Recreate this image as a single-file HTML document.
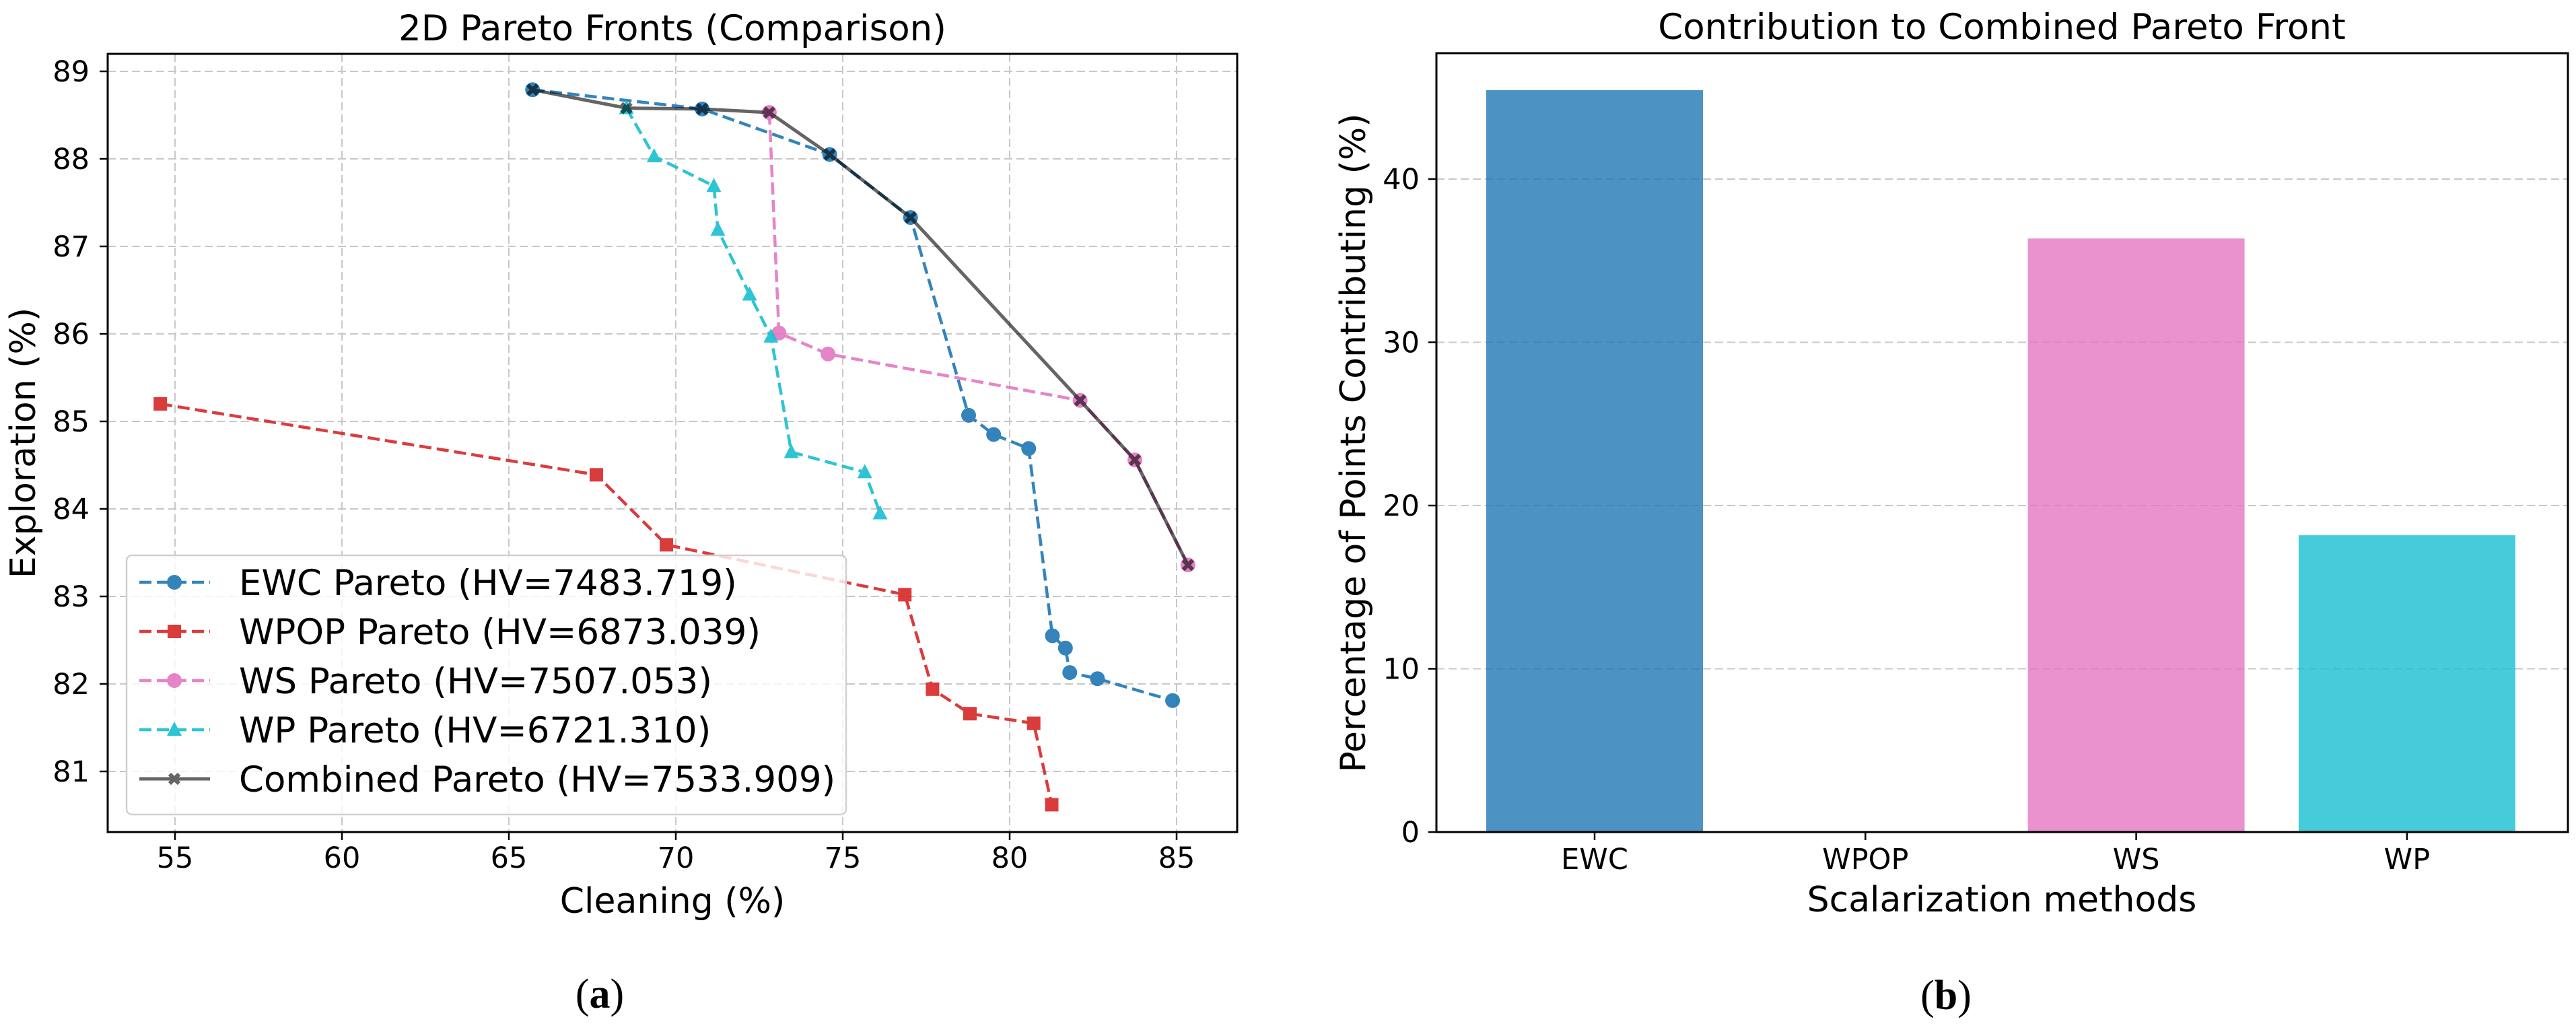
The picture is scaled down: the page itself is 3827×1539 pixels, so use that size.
<!DOCTYPE html>
<html><head><meta charset="utf-8">
<style>
html,body{margin:0;padding:0;background:#fff;}
svg{display:block;font-family:"DejaVu Sans","Liberation Sans",sans-serif;}
</style></head>
<body>
<svg id="fig" width="3827" height="1539" viewBox="0 0 3827 1539" xmlns="http://www.w3.org/2000/svg">
<rect width="3827" height="1539" fill="#fff"/>
<g id="left"></g>
<g id="right"></g>
<text x="891" y="1497" font-family="Liberation Serif, serif" font-size="62" text-anchor="middle">(<tspan font-weight="bold">a</tspan>)</text>
<text x="2891" y="1499" font-family="Liberation Serif, serif" font-size="62" text-anchor="middle">(<tspan font-weight="bold">b</tspan>)</text>
</svg>
<script>
// ---------- data: left chart ----------
const xTicks = [55, 60, 65, 70, 75, 80, 85];
const yTicks = [81, 82, 83, 84, 85, 86, 87, 88, 89];
const ewcX = [65.71, 70.79, 74.61, 77.03, 78.77, 79.52, 80.57, 81.28, 81.67, 81.80, 82.63, 84.88];
const ewcY = [88.79, 88.57, 88.05, 87.33, 85.07, 84.85, 84.69, 82.55, 82.41, 82.13, 82.06, 81.81];
const wpopX = [54.56, 67.62, 69.72, 76.86, 77.69, 78.81, 80.72, 81.26];
const wpopY = [85.20, 84.39, 83.59, 83.02, 81.94, 81.66, 81.55, 80.62];
const wsX = [72.80, 73.09, 74.56, 82.11, 83.75, 85.34];
const wsY = [88.53, 86.01, 85.77, 85.24, 84.56, 83.36];
const wpX = [68.52, 69.35, 71.14, 71.26, 72.21, 72.85, 73.46, 75.66, 76.12];
const wpY = [88.58, 88.03, 87.69, 87.19, 86.45, 85.97, 84.65, 84.42, 83.95];
const combX = [65.71, 68.52, 70.79, 72.80, 74.61, 77.03, 82.11, 83.75, 85.34];
const combY = [88.79, 88.58, 88.57, 88.53, 88.05, 87.33, 85.24, 84.56, 83.36];
const legendLabels = ["EWC Pareto (HV=7483.719)", "WPOP Pareto (HV=6873.039)", "WS Pareto (HV=7507.053)", "WP Pareto (HV=6721.310)", "Combined Pareto (HV=7533.909)"];
// ---------- data: right chart ----------
const methods = ["EWC", "WPOP", "WS", "WP"];
const contrib = [45.45, 0, 36.36, 18.18];
const contribTicks = [0, 10, 20, 30, 40];

const NS = "http://www.w3.org/2000/svg";
function mk(parent, tag, attrs, text) {
  const e = document.createElementNS(NS, tag);
  for (const k in attrs) e.setAttribute(k, attrs[k]);
  if (text !== undefined) e.textContent = text;
  parent.appendChild(e);
  return e;
}

// ---------- left chart ----------
const L = document.getElementById("left");
const LA = {x0: 160, x1: 1838, y0: 80, y1: 1236};
const sx = v => 260 + (v - 55) * 49.6;
const sy = v => 106 + (89 - v) * 130;

xTicks.forEach(t => {
  const g = mk(L, "line", {x1: sx(t), x2: sx(t), y1: LA.y0, y2: LA.y1, stroke: "#c8c8c8", "stroke-width": 2, "stroke-dasharray": "12,6"});
  
  
});
yTicks.forEach(t => {
  const g = mk(L, "line", {x1: LA.x0, x2: LA.x1, y1: sy(t), y2: sy(t), stroke: "#c8c8c8", "stroke-width": 2, "stroke-dasharray": "12,6"});
  
  
});

function marker(parent, type, x, y, color, name) {
  let m;
  if (type === "o") m = mk(parent, "circle", {cx: x, cy: y, r: 11, fill: color});
  else if (type === "s") m = mk(parent, "rect", {x: x - 10, y: y - 10, width: 20, height: 20, fill: color});
  else if (type === "^") m = mk(parent, "polygon", {points: `${x},${y-12} ${x+11},${y+9} ${x-11},${y+9}`, fill: color});
  else m = mk(parent, "path", {d: `M${x-7},${y-7}L${x+7},${y+7}M${x+7},${y-7}L${x-7},${y+7}`, stroke: color, "stroke-width": 6});
  
  
}

function series(xs, ys, color, type, dashed, name, opacity, width) {
  const g = mk(L, "g", {opacity: opacity});
  
  
  const pts = xs.map((v, i) => sx(v) + "," + sy(ys[i])).join(" ");
  const pl = mk(g, "polyline", {points: pts, fill: "none", stroke: color, "stroke-width": width, "stroke-dasharray": dashed ? "18,8" : "none", "stroke-linejoin": "round"});
  
  
  xs.forEach((v, i) => marker(g, type, sx(v), sy(ys[i]), color, name + '-point'));
}
series(ewcX, ewcY, "#1f77b4", "o", true, "ewc", 0.9, 4.5);
series(wpopX, wpopY, "#d62728", "s", true, "wpop", 0.9, 4.5);
series(wsX, wsY, "#e377c2", "o", true, "ws", 0.9, 4.5);
series(wpX, wpY, "#17becf", "^", true, "wp", 0.9, 4.5);
series(combX, combY, "#000000", "x", false, "combined", 0.6, 5);

const fr = mk(L, "rect", {x: LA.x0, y: LA.y0, width: LA.x1 - LA.x0, height: LA.y1 - LA.y0, fill: "none", stroke: "#000", "stroke-width": 3});



xTicks.forEach(t => {
  mk(L, "line", {x1: sx(t), x2: sx(t), y1: LA.y1, y2: LA.y1 + 12, stroke: "#000", "stroke-width": 2.5});
  const tx = mk(L, "text", {x: sx(t), y: 1289, "font-size": 43, "text-anchor": "middle"}, t);
  
  
});
yTicks.forEach(t => {
  mk(L, "line", {x1: LA.x0 - 12, x2: LA.x0, y1: sy(t), y2: sy(t), stroke: "#000", "stroke-width": 2.5});
  const tx = mk(L, "text", {x: 133, y: sy(t) + 15, "font-size": 43, "text-anchor": "end"}, t);
  
  
});
let t1 = mk(L, "text", {x: 999, y: 60, "font-size": 53, "text-anchor": "middle"}, "2D Pareto Fronts (Comparison)");


let t2 = mk(L, "text", {x: 999, y: 1356, "font-size": 52, "text-anchor": "middle"}, "Cleaning (%)");


let t3 = mk(L, "text", {x: 0, y: 0, "font-size": 52, "text-anchor": "middle", transform: "translate(52,658) rotate(-90)"}, "Exploration (%)");



// legend
const lg = mk(L, "g", {});


mk(lg, "rect", {x: 188, y: 825, width: 1069, height: 385, rx: 8, fill: "#fff", "fill-opacity": 0.8, stroke: "#d0d0d0", "stroke-width": 2.5});
const lc = ["#1f77b4", "#d62728", "#e377c2", "#17becf", "#000000"];
const lm = ["o", "s", "o", "^", "x"];
legendLabels.forEach((lab, i) => {
  const cy = 865 + i * 73;
  const e = mk(lg, "g", {});
  
  
  const gg = mk(e, "g", {opacity: i === 4 ? 0.6 : 0.9});
  mk(gg, "line", {x1: 207, x2: 312, y1: cy, y2: cy, stroke: lc[i], "stroke-width": i === 4 ? 5 : 4.5, "stroke-dasharray": i === 4 ? "none" : "18,8"});
  marker(gg, lm[i], 259, cy, lc[i], 'legend-marker');
  const tx = mk(e, "text", {x: 355, y: cy + 19, "font-size": 53}, lab);
  
  
});

// ---------- right chart ----------
const R = document.getElementById("right");
const RA = {x0: 2134, x1: 3815, y0: 79, y1: 1236};
const bx = i => 2369 + i * 402.3;
const by = v => 1236 - v * 24.25;
const barColors = ["#1f77b4", "#d62728", "#e377c2", "#17becf"];

contribTicks.forEach(t => {
  if (t > 0) {
    const g = mk(R, "line", {x1: RA.x0, x2: RA.x1, y1: by(t), y2: by(t), stroke: "#c8c8c8", "stroke-width": 2, "stroke-dasharray": "12,6"});
    
    
  }
  mk(R, "line", {x1: RA.x0 - 12, x2: RA.x0, y1: by(t), y2: by(t), stroke: "#000", "stroke-width": 2.5});
  const tx = mk(R, "text", {x: 2109, y: by(t) + 15, "font-size": 43, "text-anchor": "end"}, t);
  
  
});
methods.forEach((m, i) => {
  const v = contrib[i];
  const b = mk(R, "rect", {x: bx(i) - 161, y: by(v), width: 322, height: by(0) - by(v), fill: barColors[i], "fill-opacity": 0.8});
  
  
  mk(R, "line", {x1: bx(i), x2: bx(i), y1: RA.y1, y2: RA.y1 + 12, stroke: "#000", "stroke-width": 2.5});
  const tx = mk(R, "text", {x: bx(i), y: 1291, "font-size": 43, "text-anchor": "middle"}, m);
  
  
});
const fr2 = mk(R, "rect", {x: RA.x0, y: RA.y0, width: RA.x1 - RA.x0, height: RA.y1 - RA.y0, fill: "none", stroke: "#000", "stroke-width": 3});


let r1 = mk(R, "text", {x: 2974, y: 58, "font-size": 53, "text-anchor": "middle"}, "Contribution to Combined Pareto Front");


let r2 = mk(R, "text", {x: 2974, y: 1354, "font-size": 52, "text-anchor": "middle"}, "Scalarization methods");


let r3 = mk(R, "text", {x: 0, y: 0, "font-size": 52, "text-anchor": "middle", transform: "translate(2028,658) rotate(-90)"}, "Percentage of Points Contributing (%)");


</script>
</body></html>
